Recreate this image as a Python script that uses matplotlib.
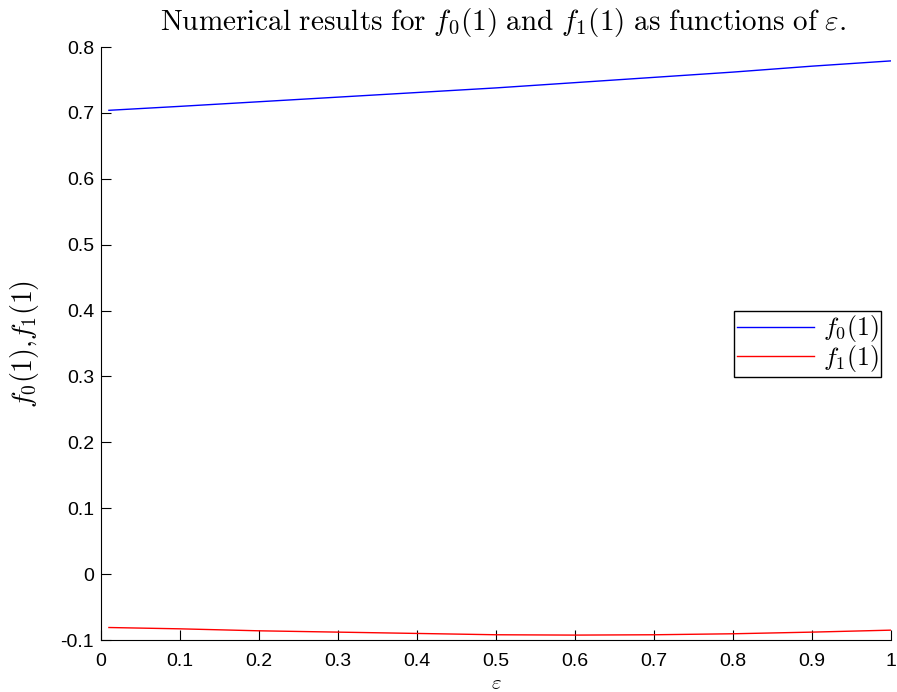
import matplotlib

matplotlib.use("Agg")
import matplotlib.pyplot as plt

eps = [0.01, 0.1, 0.2, 0.3, 0.4, 0.5, 0.6, 0.7, 0.8, 0.9, 1.0]
f0 = [0.704, 0.710, 0.717, 0.724, 0.731, 0.738, 0.746, 0.754, 0.762, 0.771, 0.779]
f1 = [-0.081, -0.083, -0.086, -0.088, -0.090, -0.092, -0.0925, -0.092, -0.0905, -0.088, -0.085]

xticks = [0, 0.1, 0.2, 0.3, 0.4, 0.5, 0.6, 0.7, 0.8, 0.9, 1]
yticks = [-0.1, 0, 0.1, 0.2, 0.3, 0.4, 0.5, 0.6, 0.7, 0.8]

plt.rcParams["mathtext.fontset"] = "cm"
plt.rcParams["font.family"] = ["Liberation Sans", "DejaVu Sans"]

fig = plt.figure(figsize=(8.97, 6.92), dpi=100)
ax = fig.add_axes([0.1126, 0.0751, 0.8807, 0.8569])

ax.plot(eps, f0, color="blue", linewidth=1, label=r"$f_0(1)\ $")
ax.plot(eps, f1, color="red", linewidth=1, label=r"$f_1(1)\ $")

ax.set_xlim(0, 1)
ax.set_ylim(-0.1, 0.8)
ax.set_xticks(xticks)
ax.set_xticklabels([f"{t:g}" for t in xticks])
ax.set_yticks(yticks)
ax.set_yticklabels([f"{t:g}" for t in yticks])
ax.tick_params(direction="in", length=7, labelsize=14)
ax.tick_params(axis="x", pad=9)
ax.tick_params(axis="y", pad=5)
ax.spines["top"].set_visible(False)
ax.spines["right"].set_visible(False)

ax.set_xlabel(r"$\varepsilon$", fontsize=15, labelpad=3)
ax.set_ylabel(r"$f_0(1){,}f_1(1)$", fontsize=20, labelpad=14)
ax.set_title(r"$\mathrm{Numerical\ results\ for\ }f_0(1)\mathrm{\ and\ }f_1(1)\mathrm{\ as\ functions\ of\ }\varepsilon\mathrm{.}$",
             fontsize=21, pad=12, x=0.509)

leg = ax.legend(loc="upper right", bbox_to_anchor=(0.987, 0.555), fontsize=18.5,
                fancybox=False, framealpha=1, edgecolor="black",
                handlelength=3.0, borderpad=0.1, labelspacing=-0.05,
                handletextpad=0.35, borderaxespad=0)
leg.get_frame().set_linewidth(1)

fig.savefig("out.png", dpi=100)
